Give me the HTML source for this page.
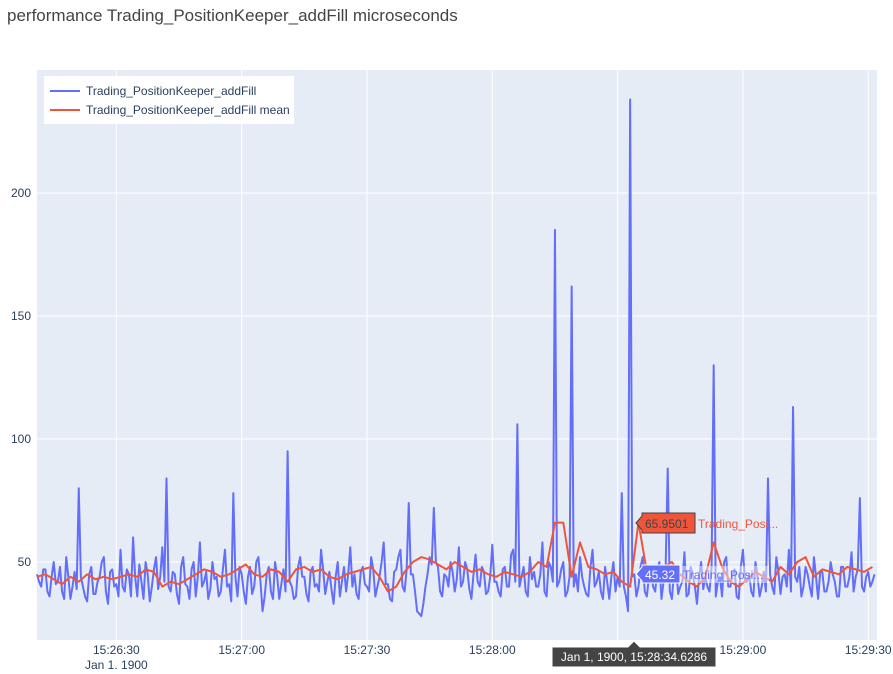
<!DOCTYPE html>
<html><head><meta charset="utf-8"><style>
body{margin:0;background:#fff;font-family:"Liberation Sans",Arial,sans-serif}
svg text{font-family:"Liberation Sans",Arial,sans-serif}
</style></head><body>
<svg id="c" width="893" height="669" xmlns="http://www.w3.org/2000/svg">
<text x="7" y="21" font-size="17" fill="#444">performance Trading_PositionKeeper_addFill microseconds</text>
<rect x="37" y="70" width="840" height="570" fill="#e5ecf6"/>
<g id="grid"></g><g id="series"></g><g id="axes"></g>
<g>
<rect x="44" y="76" width="250" height="48" fill="#fff"/>
<line x1="50" y1="91" x2="80" y2="91" stroke="#636efa" stroke-width="2"/>
<text x="86" y="95" font-size="12" fill="#2a3f5f">Trading_PositionKeeper_addFill</text>
<line x1="50" y1="110" x2="80" y2="110" stroke="#ef553b" stroke-width="2"/>
<text x="86" y="114" font-size="12" fill="#2a3f5f">Trading_PositionKeeper_addFill mean</text>
</g>
<g>
<path d="M636,523 L642,516 L642,513 L695,513 L695,533 L642,533 L642,530 Z" fill="#ef553b" stroke="#444"/>
<text x="645" y="528" font-size="12" fill="#444">65.9501</text>
<text x="698" y="528" font-size="12" fill="#ef553b">Trading_Posi...</text>
</g>
<g>
<path d="M636,574 L642,567 L642,565 L680,565 L680,583 L642,583 L642,581 Z" fill="#636efa" stroke="#fff"/>
<text x="645" y="579" font-size="12" fill="#fff">45.32</text>
<rect x="681" y="566" width="88" height="17" fill="#fff" fill-opacity="0.45"/>
<text x="683" y="579" font-size="12" fill="#636efa">Trading_Posi...</text>
</g>
<g>
<path d="M552,647 L628,647 L634,641 L640,647 L716,647 L716,667 L552,667 Z" fill="#444" stroke="#fff"/>
<text x="634" y="661" font-size="12" fill="#fff" text-anchor="middle">Jan 1, 1900, 15:28:34.6286</text>
</g>
</svg>
<script>
const values=[45,42,40,47,47,38,36,44,50,41,42,48,38,35,52,44,35,40,46,39,
80,44,40,36,34,45,48,37,37,42,44,50,52,38,33,46,47,40,41,36,
55,40,38,47,45,36,60,44,36,49,42,35,50,45,34,40,47,52,39,44,
56,42,84,40,38,46,45,37,33,48,52,41,40,35,47,50,36,44,58,40,
42,46,35,39,50,43,44,36,38,47,55,40,41,34,78,44,36,48,45,38,
33,44,48,37,40,50,52,42,30,36,45,48,38,35,50,44,35,41,47,38,
95,42,40,35,36,48,52,44,44,37,34,46,48,40,41,38,55,47,37,42,
46,39,33,44,50,36,42,48,38,45,56,40,45,37,35,46,48,41,40,38,
52,47,36,40,44,50,58,41,41,35,34,46,47,52,55,40,38,47,74,45,
45,38,30,29,28,33,40,45,52,49,72,50,48,38,36,45,44,40,50,46,
38,43,56,40,42,50,47,39,35,45,53,42,40,48,46,37,38,44,57,42,
42,38,36,47,48,40,40,53,55,42,106,40,44,48,38,36,52,43,46,40,
40,45,58,38,36,50,48,42,185,40,42,47,50,36,38,44,162,40,45,38,
52,44,40,37,36,48,55,40,42,46,38,35,48,42,35,44,50,38,44,40,
78,40,36,30,238,44,45,36,40,48,52,38,36,44,46,40,38,47,50,35,
42,48,88,38,35,46,48,37,40,42,54,36,37,48,45,40,33,44,50,39,
44,40,38,48,130,36,42,44,36,50,52,40,40,45,47,36,35,48,55,42,
42,45,38,36,50,44,36,40,46,38,84,45,40,37,52,46,37,44,45,40,
55,38,113,44,42,48,36,40,48,45,40,36,52,44,35,46,46,38,38,42,
50,45,42,36,36,48,48,40,40,44,54,38,44,47,76,40,38,44,46,40,
42,45];
const meanValues=[44,45,43,41,44,42,45,43,44,43,
44,45,44,47,46,40,42,41,43,45,
47,46,44,45,47,49,45,44,47,46,
42,47,48,46,47,44,43,45,46,47,
48,44,38,40,46,50,52,51,49,47,
50,48,46,47,45,44,46,45,44,46,
50,48,66,66,44,58,48,47,45,46,
42,40,66,46,44,48,50,45,42,40,
44,58,48,42,40,43,46,44,42,48,
45,50,52,44,47,46,45,48,47,46,48];
const yTicks=[50,100,150,200];
const xTickLabels=["15:26:30","15:27:00","15:27:30","15:28:00","15:28:30","15:29:00","15:29:30"];
const xTickSeconds=[19,49,79,109,139,169,199];
const startSec=0,stepSec=0.5,meanStepSec=2;
const X0=37,X1=877,Y0=640,Y1=70,tMin=0,tMax=201.1,vMin=18.3,vMax=250;
const sx=t=>X0+(t-tMin)/(tMax-tMin)*(X1-X0);
const sy=v=>Y0-(v-vMin)/(vMax-vMin)*(Y0-Y1);
const NS="http://www.w3.org/2000/svg";
function mk(tag,attrs,parent){const e=document.createElementNS(NS,tag);for(const k in attrs)e.setAttribute(k,attrs[k]);parent.appendChild(e);return e;}
const grid=document.getElementById('grid'),axes=document.getElementById('axes'),ser=document.getElementById('series');
yTicks.forEach(v=>{const l=mk('line',{x1:X0,x2:X1,y1:sy(v),y2:sy(v),stroke:'#fff','stroke-width':1},grid);


const t=mk('text',{x:X0-6,y:sy(v)+4,'font-size':12,fill:'#2a3f5f','text-anchor':'end'},axes);t.textContent=v;

});
xTickSeconds.forEach((s,i)=>{const x=sx(s);const l=mk('line',{x1:x,x2:x,y1:Y1,y2:Y0,stroke:'#fff','stroke-width':1},grid);


if(i===4)return;
const t=mk('text',{x:x,y:Y0+14,'font-size':12,fill:'#2a3f5f','text-anchor':'middle'},axes);t.textContent=xTickLabels[i];

});
const d=mk('text',{x:sx(xTickSeconds[0]),y:Y0+29,'font-size':12,fill:'#2a3f5f','text-anchor':'middle'},axes);d.textContent="Jan 1, 1900";


const p1=mk('polyline',{points:values.map((v,i)=>sx(startSec+i*stepSec)+','+sy(v)).join(' '),fill:'none',stroke:'#636efa','stroke-width':2,'stroke-linejoin':'round'},ser);


const p2=mk('polyline',{points:meanValues.map((v,i)=>sx(startSec+i*meanStepSec)+','+sy(v)).join(' '),fill:'none',stroke:'#ef553b','stroke-width':2,'stroke-linejoin':'round'},ser);


</script>
</body></html>
